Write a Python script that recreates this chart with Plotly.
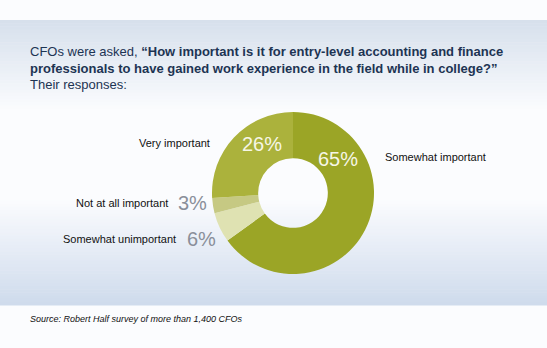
import plotly.graph_objects as go

W, H = 547, 348

labels = ["Somewhat important", "Somewhat unimportant", "Not at all important", "Very important"]
values = [65, 6, 3, 26]
colors = ["#9ba526", "#dfe2b2", "#c6c983", "#abb23c"]

title_lines = [
    "CFOs were asked, <b>\u201cHow important is it for entry-level accounting and finance</b>",
    "<b>professionals to have gained work experience in the field while in college?\u201d</b>",
    "Their responses:",
]
source = "<i>Source: Robert Half survey of more than 1,400 CFOs</i>"

def px(x):
    return x / W

def py(y):
    return 1 - y / H

# pie geometry (pixels)
cx, cy, r = 293, 193, 81

fig = go.Figure()
fig.add_trace(go.Pie(
    labels=labels, values=values, sort=False, direction="clockwise", rotation=0,
    hole=0.43, marker=dict(colors=colors, line=dict(width=0)),
    textinfo="none", hoverinfo="label+percent", showlegend=False,
    domain=dict(x=[px(cx - r), px(cx + r)], y=[py(cy + r), py(cy - r)]),
))

shapes = []
# background gradient panel
top, bot = 20, 305
n = 90
c_top = (214, 223, 236)
c_mid = (251, 252, 254)
c_bot = (206, 218, 236)
for i in range(n):
    y0 = top + (bot - top) * i / n
    y1 = top + (bot - top) * (i + 1) / n + 0.5
    t = (i + 0.5) / n
    yy = top + (bot - top) * t
    if yy < 110:
        f = (yy - top) / (110 - top)
        a, b = c_top, c_mid
    elif yy < 200:
        f = 0
        a, b = c_mid, c_mid
    else:
        f = (yy - 200) / (bot - 200)
        a, b = c_mid, c_bot
    col = tuple(round(a[k] + (b[k] - a[k]) * f) for k in range(3))
    shapes.append(dict(type="rect", xref="paper", yref="paper", x0=0, x1=1,
                       y0=py(y1), y1=py(y0), fillcolor="rgb(%d,%d,%d)" % col,
                       line=dict(width=0), layer="below"))

ann = []
font_t = dict(family="Liberation Sans, Arial", size=13, color="#1d3453")
for i, line in enumerate(title_lines):
    ann.append(dict(text=line, x=px(28), y=py(51 + 17 * i), xanchor="left", yanchor="middle",
                    font=font_t))

lab_font = dict(family="Liberation Sans, Arial", size=11, color="#111111")
pct_gray = dict(family="Liberation Sans, Arial", size=20, color="#8a8f9a")
pct_white = dict(family="Liberation Sans, Arial", size=20, color="#f6f6e6")

ann += [
    dict(text=labels[3], x=px(212), y=py(143), xanchor="right", yanchor="middle", font=lab_font),
    dict(text=labels[0], x=px(383), y=py(157), xanchor="left", yanchor="middle", font=lab_font),
    dict(text=labels[2], x=px(170), y=py(203), xanchor="right", yanchor="middle", font=lab_font),
    dict(text=labels[1], x=px(178), y=py(239), xanchor="right", yanchor="middle", font=lab_font),
    dict(text=f"{values[2]}%", x=px(176), y=py(203), xanchor="left", yanchor="middle", font=pct_gray),
    dict(text=f"{values[1]}%", x=px(185), y=py(239), xanchor="left", yanchor="middle", font=pct_gray),
    dict(text=f"{values[3]}%", x=px(262), y=py(144), xanchor="center", yanchor="middle", font=pct_white),
    dict(text=f"{values[0]}%", x=px(338), y=py(159), xanchor="center", yanchor="middle", font=pct_white),
    dict(text=source, x=px(28), y=py(319), xanchor="left", yanchor="middle",
         font=dict(family="Liberation Sans, Arial", size=9, color="#111111")),
]
for a in ann:
    a.update(xref="paper", yref="paper", showarrow=False)

fig.update_layout(
    width=W, height=H, margin=dict(l=0, r=0, t=0, b=0),
    paper_bgcolor="#fbfcfe", plot_bgcolor="rgba(0,0,0,0)",
    shapes=shapes, annotations=ann,
)
fig.write_html("out.html", config={"displayModeBar": False})
